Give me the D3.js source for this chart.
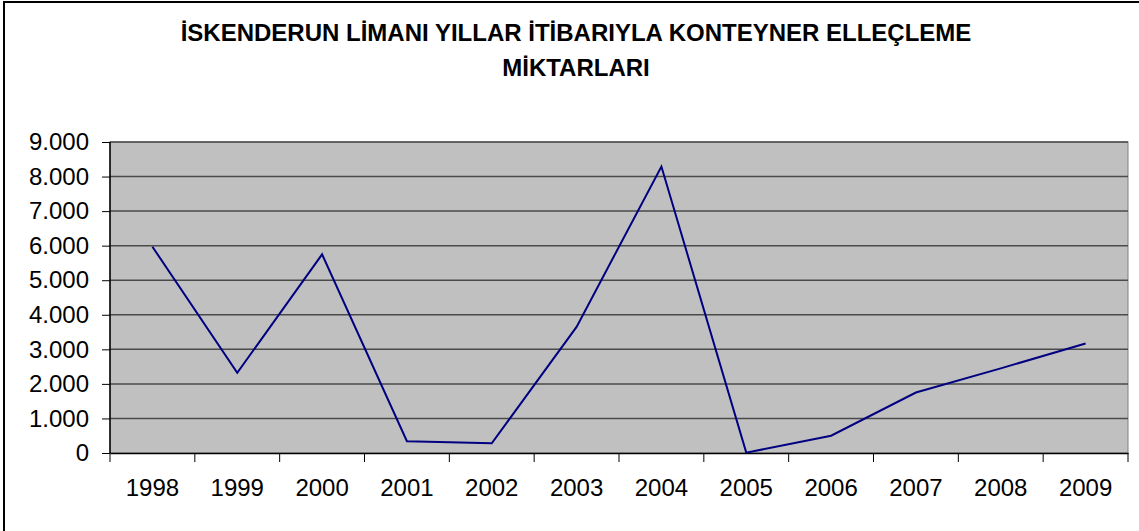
<!DOCTYPE html>
<html>
<head>
<meta charset="utf-8">
<script src="https://cdn.jsdelivr.net/npm/d3@7"></script>
<style>
  body { margin: 0; background: #fff; }
  svg { display: block; font-family: "Liberation Sans", Arial, sans-serif; }
</style>
</head>
<body>
<svg id="chart"></svg>
<script>
const years = ["1998", "1999", "2000", "2001", "2002", "2003", "2004", "2005", "2006", "2007", "2008", "2009"];
const handled = [5970, 2320, 5750, 340, 280, 3650, 8290, 10, 500, 1750, 2450, 3170];
const yTicks = [0, 1000, 2000, 3000, 4000, 5000, 6000, 7000, 8000, 9000];
const titleLines = ["İSKENDERUN LİMANI YILLAR İTİBARIYLA KONTEYNER ELLEÇLEME", "MİKTARLARI"];

const width = 1139, height = 531;
const margin = { top: 142, right: 11, bottom: 78, left: 110 };

const svg = d3.select("#chart")
    .attr("width", width)
    .attr("height", height);

// outer frame (only left and top visible in the picture)
svg.append("rect")
    .attr("x", 4).attr("y", 2)
    .attr("width", width + 10).attr("height", height + 10)
    .attr("fill", "#fff")
    .attr("stroke", "#000")
    .attr("stroke-width", 2);

const x = d3.scaleBand()
    .domain(years)
    .range([margin.left, width - margin.right]);

const y = d3.scaleLinear()
    .domain([0, 9000])
    .range([height - margin.bottom, margin.top]);

// plot area
svg.append("rect")
    .attr("x", margin.left).attr("y", margin.top)
    .attr("width", width - margin.right - margin.left)
    .attr("height", height - margin.bottom - margin.top)
    .attr("fill", "#c0c0c0")
    .attr("stroke", "#808080")
    .attr("stroke-width", 1);

// gridlines
svg.append("g")
    .selectAll("line")
    .data(yTicks.filter(d => d > 0))
    .join("line")
    .attr("x1", margin.left).attr("x2", width - margin.right)
    .attr("y1", d => y(d)).attr("y2", d => y(d))
    .attr("stroke", "#4a4a4a")
    .attr("stroke-width", 1.5);

const fmt = d => d === 0 ? "0" : d3.format(",")(d).replace(/,/g, ".");

svg.append("g")
    .attr("transform", `translate(${margin.left},0)`)
    .call(d3.axisLeft(y).tickValues(yTicks).tickFormat(fmt).tickSize(8).tickPadding(13))
    .call(g => g.select(".domain").attr("stroke", "#000").attr("stroke-width", 1.5).attr("d", `M0,${margin.top}V${height - margin.bottom}`))
    .call(g => g.selectAll(".tick line").attr("stroke", "#000"))
    .call(g => g.selectAll(".tick text").attr("font-size", 24).attr("fill", "#000").attr("font-family", "Liberation Sans, Arial, sans-serif"));

const xAxis = svg.append("g")
    .attr("transform", `translate(0,${height - margin.bottom})`)
    .call(d3.axisBottom(x).tickSize(0).tickPadding(26))
    .call(g => g.select(".domain").attr("stroke", "#000").attr("stroke-width", 1.5))
    .call(g => g.selectAll(".tick text").attr("font-size", 24).attr("fill", "#000").attr("font-family", "Liberation Sans, Arial, sans-serif"));

// category boundary ticks
xAxis.append("g")
    .selectAll("line")
    .data(years)
    .join("line")
    .attr("x1", d => x(d) + x.bandwidth()).attr("x2", d => x(d) + x.bandwidth())
    .attr("y1", 0).attr("y2", 9)
    .attr("stroke", "#000");
xAxis.append("line")
    .attr("x1", margin.left).attr("x2", margin.left)
    .attr("y1", 0).attr("y2", 9)
    .attr("stroke", "#000");

const line = d3.line()
    .x((d, i) => x(years[i]) + x.bandwidth() / 2)
    .y(d => y(d));

svg.append("path")
    .datum(handled)
    .attr("d", line)
    .attr("fill", "none")
    .attr("stroke", "#000080")
    .attr("stroke-width", 2);

svg.append("g")
    .selectAll("text")
    .data(titleLines)
    .join("text")
    .attr("x", 576)
    .attr("y", (d, i) => 41 + i * 35)
    .attr("text-anchor", "middle")
    .attr("font-size", 24)
    .attr("font-weight", "bold")
    .attr("fill", "#000")
    .text(d => d);
</script>
</body>
</html>
